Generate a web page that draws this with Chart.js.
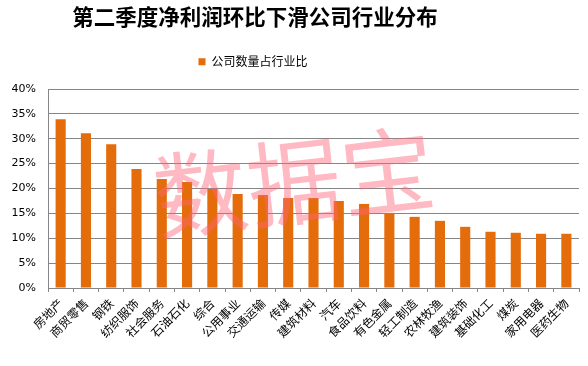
<!DOCTYPE html>
<html lang="zh">
<head>
  <meta charset="UTF-8">
  <title>第二季度净利润环比下滑公司行业分布</title>
  <style>
    body { margin: 0; padding: 0; background: #fff; }
    #wrap { width: 588px; height: 366px; }
  </style>
</head>
<body>
<div id="wrap"><canvas id="chart" width="588" height="366"></canvas></div>

<script src="https://cdn.jsdelivr.net/npm/chart.js"></script>
<script>
  // industries, sorted by share
  var categories = ['房地产', '商贸零售', '钢铁', '纺织服饰', '社会服务', '石油石化', '综合',
    '公用事业', '交通运输', '传媒', '建筑材料', '汽车', '食品饮料', '有色金属', '轻工制造',
    '农林牧渔', '建筑装饰', '基础化工', '煤炭', '家用电器', '医药生物'];
  // share of companies with falling Q2 net profit (%)
  var shares = [33.9, 31.1, 28.9, 23.9, 21.9, 21.3, 19.9, 18.9, 18.7, 18.1, 18.1,
    17.5, 16.9, 15.1, 14.3, 13.5, 12.3, 11.3, 11.1, 10.9, 10.9];
  var seriesName = '公司数量占行业比';
  var chartTitle = '第二季度净利润环比下滑公司行业分布';
  var watermark = '数据宝';

  // title and legend sit left of centre in the original, so narrow their boxes
  var headerShift = {
    id: 'headerShift',
    afterLayout: function(chart) {
      if (chart.titleBlock) chart.titleBlock.right = 510;
      if (chart.legend) chart.legend.right = 506;
    }
  };

  // pink watermark drawn over the bars
  var watermarkPlugin = {
    id: 'watermark',
    afterDatasetsDraw: function(chart) {
      var ctx = chart.ctx;
      ctx.save();
      ctx.translate(294, 182);
      ctx.rotate(-6.5 * Math.PI / 180);
      ctx.font = '94px "Noto Sans CJK SC"';
      ctx.fillStyle = 'rgba(255, 100, 120, 0.45)';
      ctx.textAlign = 'center';
      ctx.textBaseline = 'middle';
      ctx.fillText(watermark, 0, 0);
      ctx.restore();
    }
  };

  var ctx = document.getElementById('chart').getContext('2d');
  new Chart(ctx, {
    type: 'bar',
    data: {
      labels: categories,
      datasets: [{
        label: seriesName,
        data: shares,
        backgroundColor: '#E46C0A',
        barPercentage: 0.4,
        categoryPercentage: 1.0
      }]
    },
    options: {
      responsive: false,
      animation: false,
      layout: { padding: { left: 0, right: 9, top: 0, bottom: 0 } },
      plugins: {
        title: {
          display: true,
          text: chartTitle,
          color: '#000',
          font: { family: '"Noto Sans CJK SC"', size: 21.5, weight: 'bold' },
          padding: { top: 4, bottom: 16 }
        },
        legend: {
          position: 'top',
          labels: {
            boxWidth: 7,
            boxHeight: 7,
            color: '#000',
            font: { family: '"Noto Sans CJK SC"', size: 12 },
            padding: 10
          }
        },
        // empty subtitle used as a gap between legend and plot
        subtitle: {
          display: true,
          text: ' ',
          weight: 500,
          font: { size: 1 },
          padding: { top: 10, bottom: 0 }
        },
        tooltip: { enabled: false }
      },
      scales: {
        x: {
          grid: {
            display: true,
            drawOnChartArea: false,
            drawTicks: true,
            tickLength: 4,
            color: '#868686',
            offset: true
          },
          border: { color: '#868686' },
          ticks: {
            maxRotation: 45,
            minRotation: 45,
            autoSkip: false,
            color: '#000',
            font: { family: '"Noto Sans CJK SC"', size: 12 },
            padding: 4
          },
          afterFit: function(scale) { scale.height = 78; }
        },
        y: {
          min: 0,
          max: 40,
          grid: { color: '#868686', drawTicks: false },
          border: { display: true, color: '#868686' },
          ticks: {
            stepSize: 5,
            color: '#000',
            font: { family: '"DejaVu Sans"', size: 11 },
            padding: 12,
            callback: function(v) { return v + '%'; }
          },
          afterFit: function(scale) { scale.width = 48; }
        }
      }
    },
    plugins: [headerShift, watermarkPlugin]
  });
</script>
</body>
</html>
